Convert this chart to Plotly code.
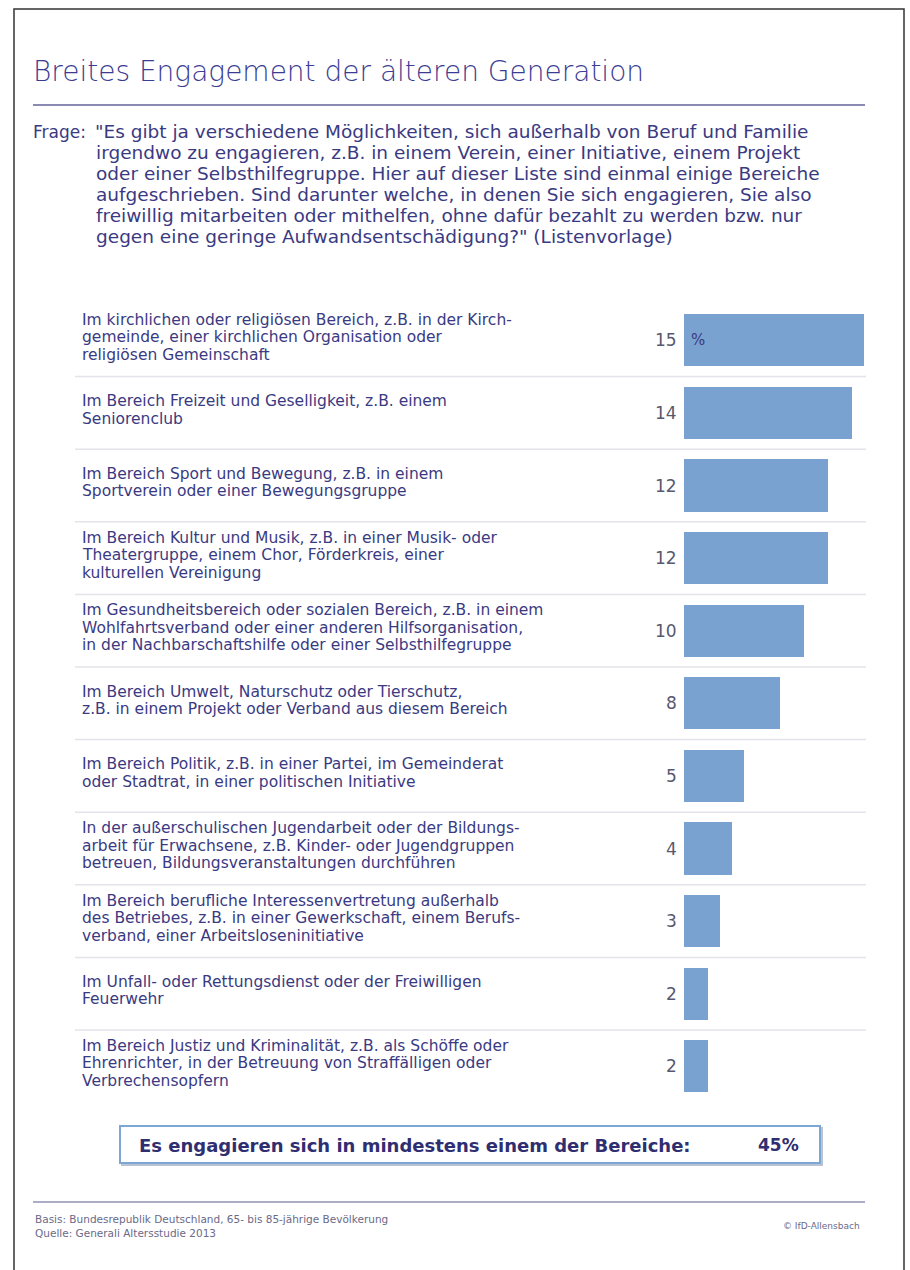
import plotly.graph_objects as go

W, H = 910, 1270

title = "Breites Engagement der älteren Generation"
question_prefix = "Frage:"
question_lines = [
    "\"Es gibt ja verschiedene Möglichkeiten, sich außerhalb von Beruf und Familie",
    "irgendwo zu engagieren, z.B. in einem Verein, einer Initiative, einem Projekt",
    "oder einer Selbsthilfegruppe. Hier auf dieser Liste sind einmal einige Bereiche",
    "aufgeschrieben. Sind darunter welche, in denen Sie sich engagieren, Sie also",
    "freiwillig mitarbeiten oder mithelfen, ohne dafür bezahlt zu werden bzw. nur",
    "gegen eine geringe Aufwandsentschädigung?\" (Listenvorlage)",
]

labels = [
    ["Im kirchlichen oder religiösen Bereich, z.B. in der Kirch-",
     "gemeinde, einer kirchlichen Organisation oder",
     "religiösen Gemeinschaft"],
    ["Im Bereich Freizeit und Geselligkeit, z.B. einem",
     "Seniorenclub"],
    ["Im Bereich Sport und Bewegung, z.B. in einem",
     "Sportverein oder einer Bewegungsgruppe"],
    ["Im Bereich Kultur und Musik, z.B. in einer Musik- oder",
     "Theatergruppe, einem Chor, Förderkreis, einer",
     "kulturellen Vereinigung"],
    ["Im Gesundheitsbereich oder sozialen Bereich, z.B. in einem",
     "Wohlfahrtsverband oder einer anderen Hilfsorganisation,",
     "in der Nachbarschaftshilfe oder einer Selbsthilfegruppe"],
    ["Im Bereich Umwelt, Naturschutz oder Tierschutz,",
     "z.B. in einem Projekt oder Verband aus diesem Bereich"],
    ["Im Bereich Politik, z.B. in einer Partei, im Gemeinderat",
     "oder Stadtrat, in einer politischen Initiative"],
    ["In der außerschulischen Jugendarbeit oder der Bildungs-",
     "arbeit für Erwachsene, z.B. Kinder- oder Jugendgruppen",
     "betreuen, Bildungsveranstaltungen durchführen"],
    ["Im Bereich berufliche Interessenvertretung außerhalb",
     "des Betriebes, z.B. in einer Gewerkschaft, einem Berufs-",
     "verband, einer Arbeitsloseninitiative"],
    ["Im Unfall- oder Rettungsdienst oder der Freiwilligen",
     "Feuerwehr"],
    ["Im Bereich Justiz und Kriminalität, z.B. als Schöffe oder",
     "Ehrenrichter, in der Betreuung von Straffälligen oder",
     "Verbrechensopfern"],
]
values = [15, 14, 12, 12, 10, 8, 5, 4, 3, 2, 2]

total_text = "Es engagieren sich in mindestens einem der Bereiche:"
total_value = 45

footer_lines = ["Basis: Bundesrepublik Deutschland, 65- bis 85-jährige Bevölkerung",
                "Quelle: Generali Altersstudie 2013"]
copyright_text = "© IfD-Allensbach"

categories = [" ".join(l) for l in labels]

FONT = "DejaVu Sans"
NAVY = "#3a3a82"
BAR = "#7aa2d0"


def px(x):
    return x / W


def py(y):
    return 1 - y / H


fig = go.Figure()
fig.add_trace(go.Bar(
    x=values, y=categories, orientation="h", width=0.72,
    marker=dict(color=BAR, line=dict(width=0)),
    hoverinfo="skip", showlegend=False,
))

row_top, row_pitch = 304, 72.6
n = len(categories)
y_top = py(row_top)
y_bot = py(row_top + n * row_pitch)

fig.update_layout(
    width=W, height=H,
    margin=dict(l=0, r=0, t=0, b=0),
    paper_bgcolor="white", plot_bgcolor="white",
    xaxis=dict(domain=[px(684), px(864)], range=[0, 15], visible=False, fixedrange=True),
    yaxis=dict(domain=[y_bot, y_top], type="category", categoryorder="array",
               categoryarray=categories, range=[n - 0.5, -0.5], visible=False),
    bargap=0,
)

ann = []
shapes = []

# title
ann.append(dict(x=px(31), y=py(72), xref="paper", yref="paper", xanchor="left", yanchor="middle",
                text=title, showarrow=False,
                font=dict(family=FONT, size=28, color="#3b3d92", weight=300)))
shapes.append(dict(type="line", xref="paper", yref="paper", x0=px(33), x1=px(865), y0=py(105), y1=py(105),
                   line=dict(color="#8a8ab4", width=2)))

# question
q_y0, q_pitch = 132, 20.8
QS = 18.5
ann.append(dict(x=px(31), y=py(q_y0), xref="paper", yref="paper", xanchor="left", yanchor="middle",
                text=question_prefix, showarrow=False, font=dict(family=FONT, size=17, color=NAVY)))
for j, line in enumerate(question_lines):
    xx = 93 if j == 0 else 94
    ann.append(dict(x=px(xx), y=py(q_y0 + j * q_pitch), xref="paper", yref="paper",
                    xanchor="left", yanchor="middle", text=line, showarrow=False,
                    font=dict(family=FONT, size=QS, color=NAVY)))

# row labels
lp = 17.4
for i, (cat, lines) in enumerate(zip(categories, labels)):
    m = len(lines)
    for j, line in enumerate(lines):
        ann.append(dict(x=px(80), y=cat, xref="paper", yref="y", xanchor="left", yanchor="middle",
                        text=line, showarrow=False, yshift=-(j - (m - 1) / 2) * lp + 3,
                        font=dict(family=FONT, size=15.5, color=NAVY)))
    ann.append(dict(x=0, y=cat, xref="x", yref="y", xanchor="right", yanchor="middle",
                    text=str(values[i]), showarrow=False, xshift=-5,
                    font=dict(family=FONT, size=17, color="#58586e")))
    if i < n - 1:
        shapes.append(dict(type="line", xref="paper", yref="y", x0=px(75), x1=px(866),
                           y0=i + 0.5, y1=i + 0.5, line=dict(color="#e3e3ea", width=1.5), layer="below"))

ann.append(dict(x=0, y=categories[0], xref="x", yref="y", xanchor="left", yanchor="middle",
                text="%", showarrow=False, xshift=5,
                font=dict(family=FONT, size=15, color=NAVY)))

# total box
shapes.append(dict(type="rect", xref="paper", yref="paper", x0=px(122), x1=px(822), y0=py(1128), y1=py(1165),
                   line=dict(color="#b8c3d3", width=2), fillcolor="rgba(0,0,0,0)"))
shapes.append(dict(type="rect", xref="paper", yref="paper", x0=px(120), x1=px(820), y0=py(1126), y1=py(1163),
                   line=dict(color="#7ea6d4", width=2), fillcolor="white"))
ann.append(dict(x=px(137), y=py(1145), xref="paper", yref="paper", xanchor="left", yanchor="middle",
                text="<b>" + total_text + "</b>", showarrow=False,
                font=dict(family=FONT, size=18, color="#2f2e70")))
ann.append(dict(x=px(801), y=py(1145), xref="paper", yref="paper", xanchor="right", yanchor="middle",
                text="<b>%d%%</b>" % total_value, showarrow=False,
                font=dict(family=FONT, size=17, color="#2f2e70")))

# footer
shapes.append(dict(type="line", xref="paper", yref="paper", x0=px(33), x1=px(865), y0=py(1202), y1=py(1202),
                   line=dict(color="#9090b4", width=1.5)))
for j, line in enumerate(footer_lines):
    ann.append(dict(x=px(33), y=py(1219 + j * 13.5), xref="paper", yref="paper", xanchor="left", yanchor="middle",
                    text=line, showarrow=False, font=dict(family=FONT, size=10.5, color="#6a6a88")))
ann.append(dict(x=px(862), y=py(1226), xref="paper", yref="paper", xanchor="right", yanchor="middle",
                text=copyright_text, showarrow=False, font=dict(family=FONT, size=9, color="#6a6a88")))

# page border
shapes.append(dict(type="rect", xref="paper", yref="paper", x0=px(14), x1=px(904), y0=py(1290), y1=py(9),
                   line=dict(color="#333333", width=1.5), fillcolor="rgba(0,0,0,0)"))

fig.update_layout(annotations=ann, shapes=shapes)
fig.write_html("out.html")
